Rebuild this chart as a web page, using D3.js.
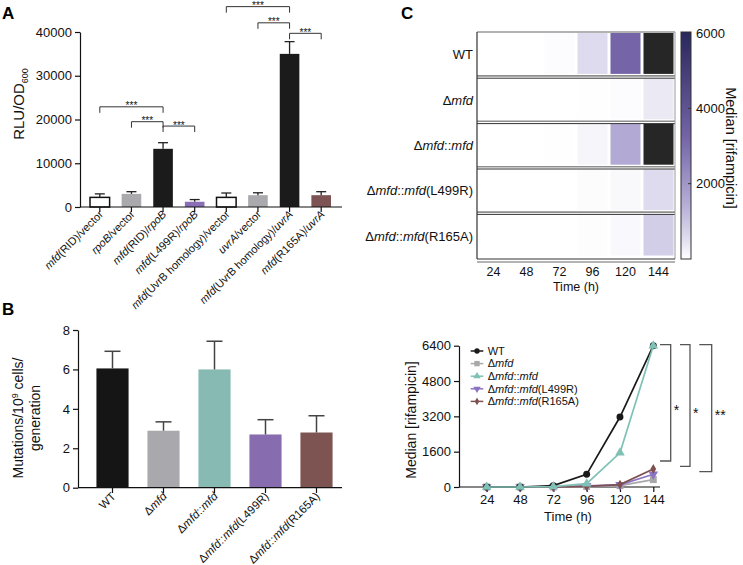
<!DOCTYPE html>
<html><head><meta charset="utf-8">
<script src="https://cdn.jsdelivr.net/npm/d3@7"></script>
<style>body{margin:0;background:#fff} svg{font-family:Arial,"Liberation Sans",Helvetica,sans-serif}</style>
</head><body><svg width="743" height="565"></svg>
<script>
// ---------- DATA ----------
// Panel A
const aLabels = ["mfd(RID)/vector","rpoB/vector","mfd(RID)/rpoB","mfd(L499R)/rpoB","mfd(UvrB homology)/vector","uvrA/vector","mfd(UvrB homology)/uvrA","mfd(R165A)/uvrA"];
const aValues = [2200, 3000, 13300, 1200, 2200, 2700, 35000, 2700];
const aErrors = [800, 500, 1400, 500, 1000, 550, 2800, 800];
const aTicks = [0, 10000, 20000, 30000, 40000];
const aBrackets = [[0,2,"***",22900],[1,2,"***",19500],[2,3,"***",18500],[4,6,"***",45800],[5,6,"***",42100],[6,7,"***",39700]];
// Panel B
const strains = ["WT","Δmfd","Δmfd::mfd","Δmfd::mfd(L499R)","Δmfd::mfd(R165A)"];
const bValues = [6.05, 2.89, 6.0, 2.7, 2.8];
const bErrors = [0.87, 0.45, 1.43, 0.75, 0.85];
const bTicks = [0, 2, 4, 6, 8];
// Panel C
const times = [24, 48, 72, 96, 120, 144];
const medWT = [0, 0, 60, 575, 3170, 6400];
const medMfd = [0, 0, 0, 20, 60, 335];
const medComp = [0, 0, 20, 150, 1550, 6400];
const medL499R = [0, 0, 0, 50, 100, 575];
const medR165A = [0, 0, 0, 30, 110, 815];
const lineTicks = [0, 1600, 3200, 4800, 6400];
const colorbarTicks = [2000, 4000, 6000];
const sigLabels = ["*", "*", "**"]; // WT vs R165A, L499R, Δmfd

// ---------- STYLE ----------
const aColors = ["#ffffff","#aaaaae","#1b1b1b","#8b6fb6","#ffffff","#aaaaae","#1b1b1b","#7d5453"];
const bColors = ["#151515","#a9a9ad","#87bab2","#876cb0","#7d5452"];
const lineColors = ["#1a1a1a","#a8a8ab","#7fc1b4","#8c74c4","#7e5050"];
const heatMax = 6000;

const svg = d3.select("svg");

function rich(t, str) {
  str.split(/(mfd|rpoB|uvrA)/).filter(s => s.length).forEach(p => {
    t.append("tspan").text(p).attr("font-style", /^(mfd|rpoB|uvrA)$/.test(p) ? "italic" : null);
  });
  return t;
}
function panelLetter(txt, x, y) {
  svg.append("text").attr("x", x).attr("y", y).attr("font-size", 17).attr("font-weight", "bold").text(txt);
}
function styleAxis(g, fs) {
  g.selectAll("path,line").attr("stroke", "#111").attr("stroke-width", 1.2);
  g.selectAll("text").attr("font-size", fs).attr("fill", "#111").attr("font-family", null);
}

// ---------- PANEL A ----------
panelLetter("A", 2, 19);
const aX = d3.scaleBand().domain(d3.range(aLabels.length)).range([84, 337]).paddingInner(0.38).paddingOuter(0.19);
const aY = d3.scaleLinear().domain([0, 40000]).range([207, 32]);
const gA = svg.append("g");
gA.selectAll("rect.bar").data(aValues).join("rect")
  .attr("x", (d, i) => aX(i)).attr("width", aX.bandwidth())
  .attr("y", d => aY(d)).attr("height", d => aY(0) - aY(d))
  .attr("fill", (d, i) => aColors[i])
  .attr("stroke", (d, i) => aColors[i] === "#ffffff" ? "#111" : "none").attr("stroke-width", 1.5);
aValues.forEach((v, i) => {
  const cx = aX(i) + aX.bandwidth() / 2;
  gA.append("line").attr("x1", cx).attr("x2", cx).attr("y1", aY(v)).attr("y2", aY(v + aErrors[i])).attr("stroke", "#222").attr("stroke-width", 1.3);
  gA.append("line").attr("x1", cx - 5).attr("x2", cx + 5).attr("y1", aY(v + aErrors[i])).attr("y2", aY(v + aErrors[i])).attr("stroke", "#222").attr("stroke-width", 1.3);
});
const aAxisY = gA.append("g").attr("transform", "translate(80,0)")
  .call(d3.axisLeft(aY).tickValues(aTicks).tickSize(5).tickSizeOuter(0).tickFormat(d3.format("d")));
styleAxis(aAxisY, 13);
gA.append("line").attr("x1", 80).attr("x2", 342).attr("y1", 207).attr("y2", 207).attr("stroke", "#111").attr("stroke-width", 1.2);
aLabels.forEach((l, i) => {
  const cx = aX(i) + aX.bandwidth() / 2;
  gA.append("line").attr("x1", cx).attr("x2", cx).attr("y1", 207).attr("y2", 212).attr("stroke", "#111").attr("stroke-width", 1.2);
  rich(gA.append("text").attr("text-anchor", "end").attr("font-size", 11).attr("fill", "#111")
    .attr("transform", `translate(${cx + 4},${215}) rotate(-45)`), l);
});
aBrackets.forEach(([a, b, s, lvl]) => {
  const x1 = aX(a) + aX.bandwidth() / 2, x2 = aX(b) + aX.bandwidth() / 2, y = aY(lvl);
  gA.append("path").attr("d", `M${x1},${y + 6}V${y}H${x2}V${y + 6}`).attr("fill", "none").attr("stroke", "#333").attr("stroke-width", 1);
  gA.append("text").attr("x", (x1 + x2) / 2).attr("y", y + 2.5).attr("text-anchor", "middle").attr("font-size", 10).attr("fill", "#111").text(s);
});
const aYL = gA.append("text").attr("transform", "translate(24,104) rotate(-90)").attr("text-anchor", "middle").attr("font-size", 15).attr("fill", "#111");
aYL.append("tspan").text("RLU/OD");
aYL.append("tspan").text("600").attr("font-size", 9).attr("dy", 4);

// ---------- PANEL B ----------
panelLetter("B", 2, 315);
const bX = d3.scaleBand().domain(strains).range([87, 342]).paddingInner(0.37).paddingOuter(0.185);
const bY = d3.scaleLinear().domain([0, 8]).range([487.7, 330]);
const gB = svg.append("g");
gB.selectAll("rect").data(bValues).join("rect")
  .attr("x", (d, i) => bX(strains[i])).attr("width", bX.bandwidth())
  .attr("y", d => bY(d)).attr("height", d => bY(0) - bY(d))
  .attr("fill", (d, i) => bColors[i]);
bValues.forEach((v, i) => {
  const cx = bX(strains[i]) + bX.bandwidth() / 2;
  gB.append("line").attr("x1", cx).attr("x2", cx).attr("y1", bY(v)).attr("y2", bY(v + bErrors[i])).attr("stroke", "#444").attr("stroke-width", 1.5);
  gB.append("line").attr("x1", cx - 8).attr("x2", cx + 8).attr("y1", bY(v + bErrors[i])).attr("y2", bY(v + bErrors[i])).attr("stroke", "#444").attr("stroke-width", 1.5);
});
const bAxisY = gB.append("g").attr("transform", "translate(78,0)")
  .call(d3.axisLeft(bY).tickValues(bTicks).tickSize(5).tickSizeOuter(0));
styleAxis(bAxisY, 13);
gB.append("line").attr("x1", 78).attr("x2", 342).attr("y1", 487.7).attr("y2", 487.7).attr("stroke", "#111").attr("stroke-width", 1.2);
strains.forEach((l, i) => {
  const cx = bX(l) + bX.bandwidth() / 2;
  gB.append("line").attr("x1", cx).attr("x2", cx).attr("y1", 487.7).attr("y2", 493).attr("stroke", "#111").attr("stroke-width", 1.2);
  rich(gB.append("text").attr("text-anchor", "end").attr("font-size", 11.5).attr("fill", "#111")
    .attr("transform", `translate(${cx + 4},${497}) rotate(-45)`), l);
});
const bYL = gB.append("text").attr("transform", "translate(23,418) rotate(-90)").attr("text-anchor", "middle").attr("font-size", 14).attr("fill", "#111");
bYL.append("tspan").text("Mutations/10");
bYL.append("tspan").text("9").attr("font-size", 9).attr("dy", -5);
bYL.append("tspan").text(" cells/").attr("dy", 5);
gB.append("text").attr("transform", "translate(40,418) rotate(-90)").attr("text-anchor", "middle").attr("font-size", 14).attr("fill", "#111").text("generation");

// ---------- PANEL C: heatmap ----------
panelLetter("C", 401, 19);
const series = [medWT, medMfd, medComp, medL499R, medR165A];
const hX = d3.scaleBand().domain(times).range([477, 675]);
const hY = d3.scaleBand().domain(strains).range([32, 259]);
const colorScale = d3.scaleLinear()
  .domain([0, 0.1, 0.25, 0.53, 1].map(f => f * heatMax))
  .range(["#ffffff", "#dcd9ec", "#b4abd5", "#7565a8", "#29275c"]).clamp(true);
const heatColor = v => v > heatMax ? "#262626" : colorScale(v);
const gH = svg.append("g");
series.forEach((vals, r) => {
  vals.forEach((v, c) => {
    gH.append("rect").attr("x", hX(times[c]) + 1.5).attr("width", hX.bandwidth() - 3)
      .attr("y", hY(strains[r]) + 1).attr("height", hY.bandwidth() - 4.5)
      .attr("fill", heatColor(v));
  });
  gH.append("text").attr("x", 473).attr("y", hY(strains[r]) + hY.bandwidth() / 2).attr("dy", "0.35em")
    .attr("text-anchor", "end").attr("font-size", 13).attr("fill", "#111").call(t => rich(t, strains[r]));
});
strains.slice(0, -1).forEach((s, r) => {
  const y = hY(s) + hY.bandwidth();
  gH.append("line").attr("x1", 477).attr("x2", 675).attr("y1", y - 1.5).attr("y2", y - 1.5).attr("stroke", "#8e8e8e").attr("stroke-width", 1.6);
  gH.append("line").attr("x1", 477).attr("x2", 675).attr("y1", y + 0.8).attr("y2", y + 0.8).attr("stroke", "#333").attr("stroke-width", 1);
});
gH.append("line").attr("x1", 477).attr("x2", 675).attr("y1", 32).attr("y2", 32).attr("stroke", "#666").attr("stroke-width", 1.2);
gH.append("line").attr("x1", 477).attr("x2", 477).attr("y1", 32).attr("y2", 259).attr("stroke", "#333").attr("stroke-width", 1.2);
gH.append("line").attr("x1", 675).attr("x2", 675).attr("y1", 32).attr("y2", 259).attr("stroke", "#999").attr("stroke-width", 1);
gH.append("line").attr("x1", 477).attr("x2", 675).attr("y1", 259).attr("y2", 259).attr("stroke", "#333").attr("stroke-width", 1.2);
gH.append("line").attr("x1", 477).attr("x2", 675).attr("y1", 262).attr("y2", 262).attr("stroke", "#9a9a9a").attr("stroke-width", 1.6);
times.forEach(t => {
  gH.append("text").attr("x", hX(t) + hX.bandwidth() / 2).attr("y", 276).attr("text-anchor", "middle").attr("font-size", 12.5).attr("fill", "#111").text(t);
});
gH.append("text").attr("x", 576).attr("y", 291).attr("text-anchor", "middle").attr("font-size", 12.5).attr("fill", "#111").text("Time (h)");
// colorbar
const cbY = d3.scaleLinear().domain([0, heatMax]).range([259, 33]);
const defs = svg.append("defs");
const grad = defs.append("linearGradient").attr("id", "cbgrad").attr("x1", 0).attr("x2", 0).attr("y1", 1).attr("y2", 0);
d3.range(0, 1.0001, 0.05).forEach(f => grad.append("stop").attr("offset", f).attr("stop-color", colorScale(f * heatMax)));
gH.append("rect").attr("x", 681).attr("y", 32).attr("width", 10).attr("height", 227).attr("fill", "url(#cbgrad)").attr("stroke", "#333").attr("stroke-width", 1);
colorbarTicks.forEach(t => {
  gH.append("line").attr("x1", 688).attr("x2", 691).attr("y1", cbY(t)).attr("y2", cbY(t)).attr("stroke", "#333");
  gH.append("text").attr("x", 696).attr("y", cbY(t)).attr("dy", "0.35em").attr("font-size", 13).attr("fill", "#111").text(t);
});
gH.append("text").attr("transform", "translate(726,148) rotate(90)").attr("text-anchor", "middle").attr("font-size", 14.5).attr("fill", "#111").text("Median [rifampicin]");

// ---------- PANEL C: line chart ----------
const lX = d3.scaleLinear().domain([24, 144]).range([486.7, 653.3]);
const lY = d3.scaleLinear().domain([0, 6400]).range([487, 345.7]);
const gL = svg.append("g");
const lyAxis = gL.append("g").attr("transform", "translate(459,0)")
  .call(d3.axisLeft(lY).tickValues(lineTicks).tickSize(5).tickSizeOuter(0).tickFormat(d3.format("d")));
styleAxis(lyAxis, 13);
const lxAxis = gL.append("g").attr("transform", "translate(0,487)")
  .call(d3.axisBottom(lX).tickValues(times).tickSize(5).tickSizeOuter(0).tickFormat(d3.format("d")));
styleAxis(lxAxis, 13);
lxAxis.select(".domain").remove();
gL.append("line").attr("x1", 459).attr("x2", 660).attr("y1", 487).attr("y2", 487).attr("stroke", "#111").attr("stroke-width", 1.2);
gL.append("text").attr("x", 568).attr("y", 521).attr("text-anchor", "middle").attr("font-size", 13).attr("fill", "#111").text("Time (h)");
gL.append("text").attr("transform", "translate(416,420) rotate(-90)").attr("text-anchor", "middle").attr("font-size", 14).attr("fill", "#111").text("Median [rifampicin]");

const symbols = [
  { type: d3.symbolCircle, size: 38, rot: 0 },
  { type: d3.symbolSquare, size: 48, rot: 0 },
  { type: d3.symbolTriangle, size: 40, rot: 0 },
  { type: d3.symbolTriangle, size: 40, rot: 180 },
  { type: d3.symbolDiamond, size: 28, rot: 0 }
];
const line = d3.line().x((d, i) => lX(times[i])).y(d => lY(d));
const drawOrder = [1, 3, 4, 0, 2];
drawOrder.forEach(s => {
  gL.append("path").attr("d", line(series[s])).attr("fill", "none").attr("stroke", lineColors[s]).attr("stroke-width", 1.7);
  series[s].forEach((v, i) => {
    gL.append("path").attr("d", d3.symbol(symbols[s].type, symbols[s].size)())
      .attr("transform", `translate(${lX(times[i])},${lY(v)}) rotate(${symbols[s].rot})`)
      .attr("fill", lineColors[s]);
  });
});
// legend
strains.forEach((s, i) => {
  const y = 351 + i * 12.6;
  gL.append("line").attr("x1", 470.7).attr("x2", 483.3).attr("y1", y).attr("y2", y).attr("stroke", lineColors[i]).attr("stroke-width", 1.5);
  gL.append("path").attr("d", d3.symbol(symbols[i].type, symbols[i].size * 0.6)())
    .attr("transform", `translate(477,${y}) rotate(${symbols[i].rot})`).attr("fill", lineColors[i]);
  rich(gL.append("text").attr("x", 487.7).attr("y", y).attr("dy", "0.35em").attr("font-size", 11).attr("fill", "#111"), s);
});
// significance brackets: WT(144) vs R165A, L499R, Δmfd
const last = times.length - 1;
const sigTargets = [medR165A[last], medL499R[last], medMfd[last]];
const sigX = [[660, 670.7], [680, 690], [699.3, 711.7]];
sigTargets.forEach((v, k) => {
  const [xa, xb] = sigX[k];
  const yTop = lY(medWT[last]) - 1, yBot = lY(v) - 8;
  gL.append("path").attr("d", `M${xa},${yTop}H${xb}V${yBot}H${xa}`).attr("fill", "none").attr("stroke", "#555").attr("stroke-width", 1.3);
  gL.append("text").attr("x", xb + 3).attr("y", (yTop + yBot) / 2 + 12).attr("font-size", 14).attr("fill", "#111").text(sigLabels[k]);
});
</script>
</body></html>
